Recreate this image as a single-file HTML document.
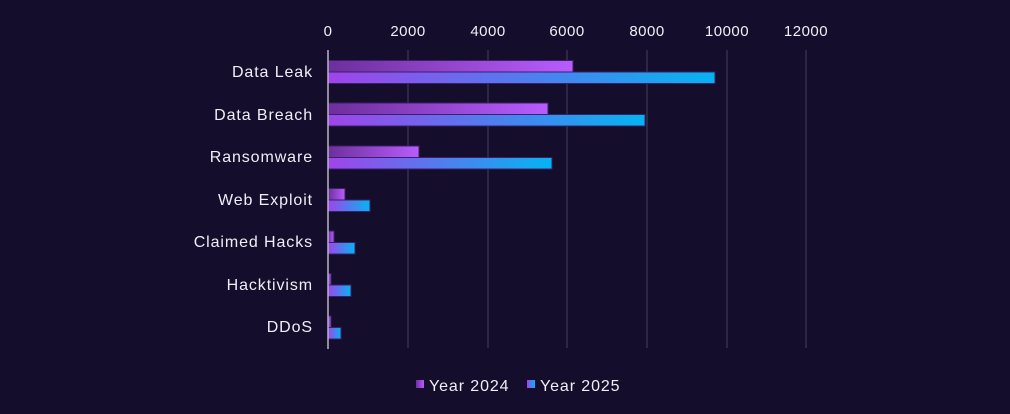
<!DOCTYPE html>
<html><head><style>
html,body{margin:0;padding:0;background:#150d2c;}
svg{display:block;}
text{font-family:"Liberation Sans",sans-serif;fill:#f0eef6;}
</style></head><body>
<svg width="1010" height="414" xmlns="http://www.w3.org/2000/svg">
<defs>
<linearGradient id="g4" x1="0" x2="1" y1="0" y2="0"><stop offset="0" stop-color="#6d2f9c"/><stop offset="1" stop-color="#b95cff"/></linearGradient>
<linearGradient id="g5" x1="0" x2="1" y1="0" y2="0"><stop offset="0" stop-color="#a044ea"/><stop offset="1" stop-color="#05b4f2"/></linearGradient>
</defs>
<rect width="1010" height="414" fill="#150d2c"/>
<g stroke="#35314d" stroke-width="1.5">
<line x1="408" y1="50" x2="408" y2="348"/><line x1="488" y1="50" x2="488" y2="348"/>
<line x1="567" y1="50" x2="567" y2="348"/><line x1="647" y1="50" x2="647" y2="348"/>
<line x1="727" y1="50" x2="727" y2="348"/><line x1="806" y1="50" x2="806" y2="348"/>
</g>
<g font-size="15" text-anchor="middle" letter-spacing="0.5">
<text x="328" y="36">0</text><text x="408" y="36">2000</text><text x="488" y="36">4000</text>
<text x="567" y="36">6000</text><text x="647" y="36">8000</text><text x="727" y="36">10000</text><text x="806" y="36">12000</text>
</g>
<g font-size="16" text-anchor="end" letter-spacing="0.9">
<text x="313" y="77">Data Leak</text><text x="313" y="120">Data Breach</text><text x="313" y="162">Ransomware</text>
<text x="313" y="205">Web Exploit</text><text x="313" y="247">Claimed Hacks</text><text x="313" y="290">Hacktivism</text><text x="313" y="332">DDoS</text>
</g>
<g stroke="#3b1f6a" stroke-width="1">
<rect x="328" y="60.5" width="245" height="11.5" fill="url(#g4)"/>
<rect x="328" y="72" width="387" height="11.5" fill="url(#g5)"/>
<rect x="328" y="103" width="220" height="11.5" fill="url(#g4)"/>
<rect x="328" y="114.5" width="317" height="11.5" fill="url(#g5)"/>
<rect x="328" y="146" width="91" height="11.5" fill="url(#g4)"/>
<rect x="328" y="157.5" width="224" height="11.5" fill="url(#g5)"/>
<rect x="328" y="188.5" width="17" height="11.5" fill="url(#g4)"/>
<rect x="328" y="200" width="42" height="11.5" fill="url(#g5)"/>
<rect x="328" y="231" width="6" height="11.5" fill="url(#g4)"/>
<rect x="328" y="242.5" width="27" height="11.5" fill="url(#g5)"/>
<rect x="328" y="273.5" width="3" height="11.5" fill="url(#g4)"/>
<rect x="328" y="285" width="23" height="11.5" fill="url(#g5)"/>
<rect x="328" y="316" width="3" height="11.5" fill="url(#g4)"/>
<rect x="328" y="327.5" width="13" height="11.5" fill="url(#g5)"/>
</g>
<line x1="328" y1="50" x2="328" y2="349" stroke="#b8b4c4" stroke-width="1.5"/>
<rect x="416" y="380" width="8" height="8" fill="url(#g4)"/>
<text x="429" y="391" font-size="16" letter-spacing="0.9">Year 2024</text>
<rect x="527" y="380" width="8" height="8" fill="url(#g5)"/>
<text x="540" y="391" font-size="16" letter-spacing="0.9">Year 2025</text>
</svg>
</body></html>
